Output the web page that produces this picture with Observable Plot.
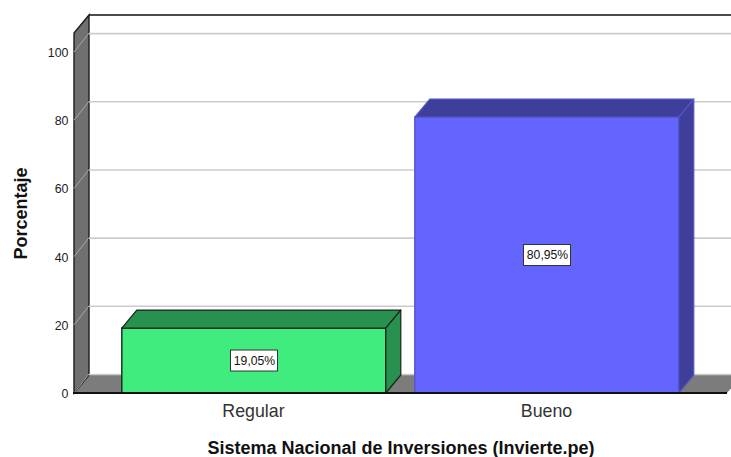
<!DOCTYPE html>
<html>
<head>
<meta charset="utf-8">
<script src="https://cdn.jsdelivr.net/npm/d3@7"></script>
<script src="https://cdn.jsdelivr.net/npm/@observablehq/plot@0.6"></script>
<style>
html,body{margin:0;padding:0;background:#fff}
svg{display:block}
</style>
</head>
<body>
<div id="chart"></div>
<script>
const categories = ["Regular", "Bueno"];
const values = [19.05, 80.95];
const valueLabels = ["19,05%", "80,95%"];
const yTicks = [0, 20, 40, 60, 80, 100];
const faceColors = ["#41EC7E", "#6464FF"];
const shadeColors = ["#28914F", "#3E3E9B"];
const edgeColors = ["#17261c", "#5555c4"];
const yTop = 105.6;
const depthX = 15, depthY = 18, gridDepthY = 19;
const rows = categories.map((c, i) => ({c, v: values[i], label: valueLabels[i], face: faceColors[i], shade: shadeColors[i], edge: edgeColors[i]}));
const poly = pts => pts.map(p => p.join(",")).join(" ");
const bandwidth = s => {
  const b = s.x.bandwidth ?? s.scales?.x?.bandwidth;
  return typeof b === "function" ? b() : b;
};

function walls(index, s, values, dim) {
  const g = d3.create("svg:g");
  const x0 = dim.marginLeft, x1 = dim.width - dim.marginRight;
  const y0 = s.y(0), yT = s.y(yTop);
  g.append("polygon").attr("points", poly([[x0, y0], [x0 + depthX, y0 - depthY], [x1 + depthX, y0 - depthY], [x1, y0]])).attr("fill", "#7c7c7c");
  g.append("polygon").attr("points", poly([[x0, y0], [x0 + depthX, y0 - depthY], [x0 + depthX, yT - depthY], [x0, yT]]))
    .attr("fill", "#707070").attr("stroke", "#1c1c1c").attr("stroke-width", 1.4);
  g.append("line").attr("x1", x0 + depthX).attr("x2", x1 + depthX).attr("y1", yT - depthY).attr("y2", yT - depthY).attr("stroke", "#111").attr("stroke-width", 1.5);
  for (const t of yTicks) {
    g.append("line").attr("x1", x0).attr("x2", x0 + depthX).attr("y1", s.y(t)).attr("y2", s.y(t) - gridDepthY).attr("stroke", "#a8a8a8").attr("stroke-width", 1);
  }
  return g.node();
}

function baseLine(index, s, values, dim) {
  return d3.create("svg:line").attr("x1", dim.marginLeft - 1).attr("x2", dim.width - dim.marginRight)
    .attr("y1", s.y(0)).attr("y2", s.y(0)).attr("stroke", "#111").attr("stroke-width", 2).node();
}

function extruded(i, s, v, d, c, next) {
  const g = d3.select(next(i, s, v, d, c));
  const w = bandwidth(s);
  for (const r of rows) {
    const l = s.x(r.c), ri = l + w, t = s.y(r.v), b = s.y(0);
    for (const pts of [
      [[l, t], [l + depthX, t - depthY], [ri + depthX, t - depthY], [ri, t]],
      [[ri, t], [ri + depthX, t - depthY], [ri + depthX, b - depthY], [ri, b]]
    ]) {
      g.append("polygon").attr("points", poly(pts)).attr("fill", r.shade).attr("stroke", r.edge).attr("stroke-width", 1.2).attr("stroke-linejoin", "round");
    }
  }
  return g.node();
}

function labelBoxes(index, s) {
  const g = d3.create("svg:g");
  const w = bandwidth(s);
  for (const r of rows) {
    g.append("rect").attr("x", s.x(r.c) + w / 2 - 23.5).attr("y", s.y(r.v / 2) - 10.5).attr("width", 47).attr("height", 21)
      .attr("fill", "#fff").attr("stroke", "#333").attr("stroke-width", 1);
  }
  return g.node();
}

const chart = Plot.plot({
  width: 731,
  height: 457,
  marginLeft: 74,
  marginRight: 4,
  marginTop: 33,
  marginBottom: 64,
  style: {fontFamily: "'Liberation Sans', Arial, sans-serif", background: "#fff", overflow: "hidden"},
  x: {domain: categories, paddingInner: 0.0986, paddingOuter: 0.16, label: null},
  y: {domain: [0, yTop], label: null},
  marks: [
    walls,
    Plot.ruleY(yTicks, {dx: depthX, dy: -gridDepthY, stroke: "#cccccc", strokeWidth: 1.6}),
    Plot.barY(rows, {x: "c", y: "v", fill: "face", stroke: "edge", strokeWidth: 1.4, dx: -0.2, render: extruded}),
    baseLine,
    labelBoxes,
    Plot.text(rows, {x: "c", y: d => d.v / 2, text: "label", fontSize: 12.2, fill: "#111"}),
    Plot.axisY({ticks: yTicks, tickSize: 0, tickPadding: 6, tickFormat: d => d, fontSize: 12.4, color: "#222", label: null, anchor: "left", dy: 0.5}),
    Plot.axisX({tickSize: 0, tickPadding: 10.5, fontSize: 17.8, fontWeight: 300, color: "#333", label: null, dx: -1}),
    Plot.text(["Sistema Nacional de Inversiones (Invierte.pe)"], {frameAnchor: "bottom", dy: 60, text: d => d, fontSize: 18, fontWeight: "bold", fill: "#111"}),
    Plot.text(["Porcentaje"], {frameAnchor: "left", textAnchor: "middle", dx: -53, rotate: -90, text: d => d, fontSize: 18, fontWeight: "bold", fill: "#111"})
  ]
});
document.getElementById("chart").appendChild(chart);
</script>
</body>
</html>
